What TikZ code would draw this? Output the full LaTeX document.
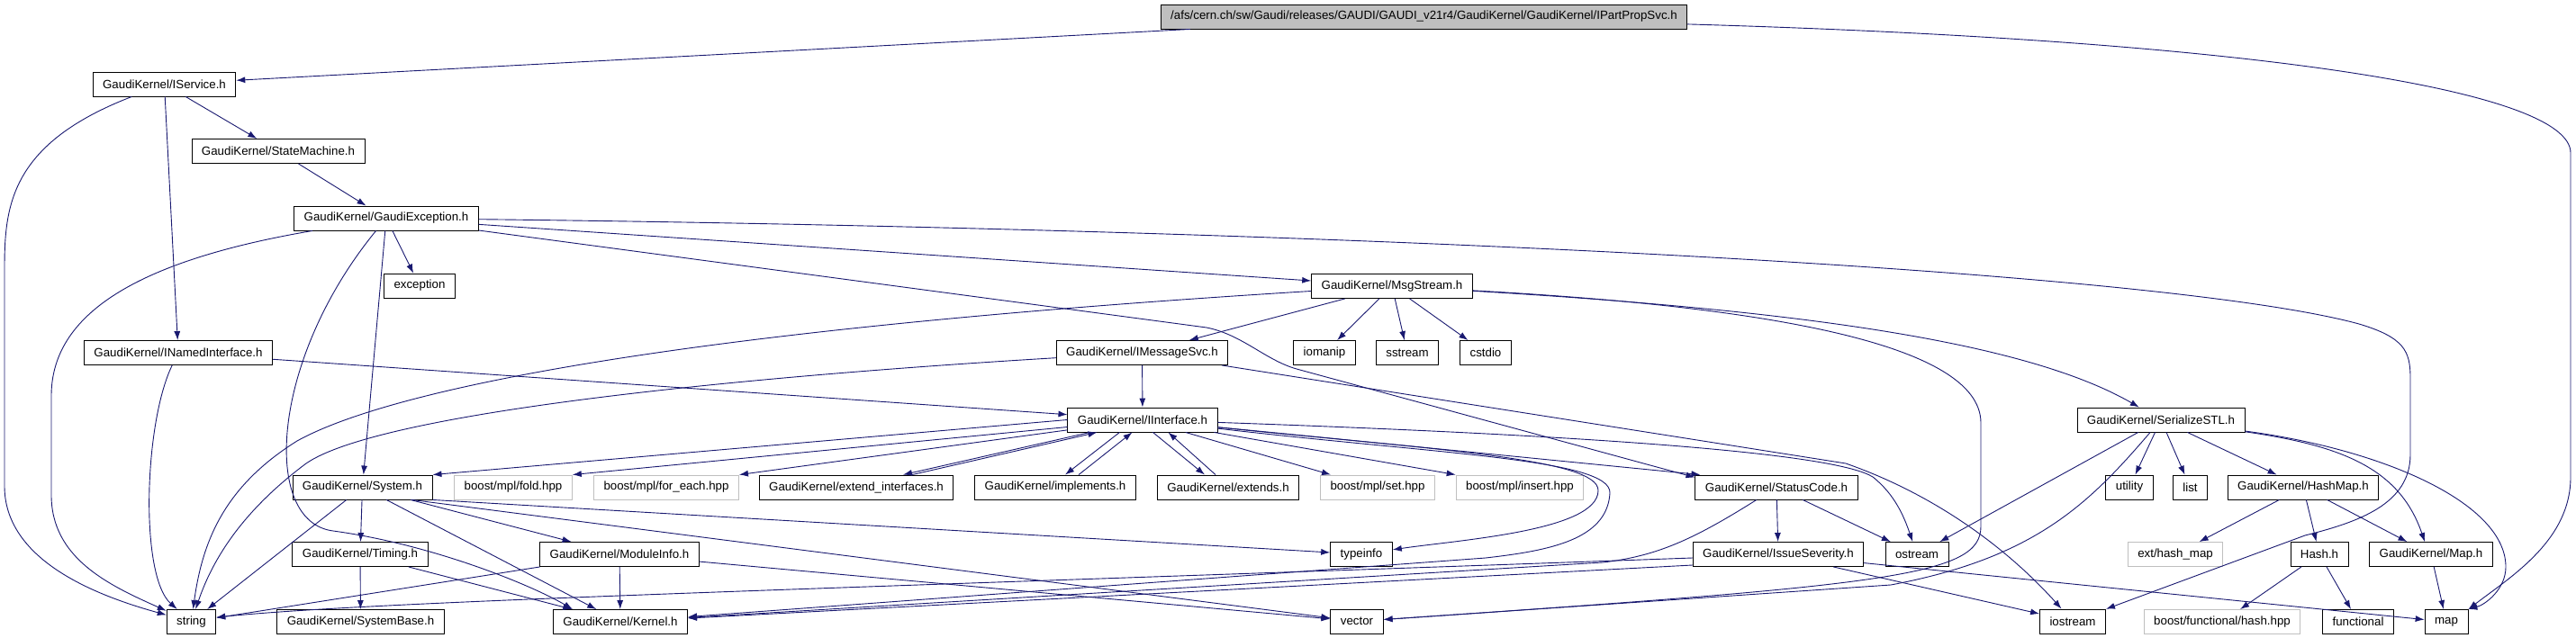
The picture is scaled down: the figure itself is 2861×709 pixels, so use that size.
\documentclass[tikz,border=0pt]{standalone}
\usepackage{fontspec}
\setmainfont{Liberation Sans}
\usetikzlibrary{arrows.meta}
\definecolor{edgeblue}{HTML}{191970}
\definecolor{sysgray}{HTML}{BFBFBF}

\begin{document}
\begin{tikzpicture}[x=1pt,y=-1pt,>={Latex[length=10pt,width=7pt]},
        font=\fontsize{13.3}{16}\selectfont,
        file/.style={draw,line width=0.9pt,fill=white,minimum height=27pt,
            inner xsep=11pt,inner ysep=0pt},
        sysfile/.style={file,draw=sysgray},
        rootfile/.style={file,fill=sysgray},
        incl/.style={->,draw=edgeblue,line width=0.9pt}]
    \useasboundingbox (0,0) rectangle (2861,709);

    % files
    \node[rootfile] (root) at (1581.5,18.5)
        {/afs/cern.ch/sw/Gaudi/releases/GAUDI/GAUDI\_v21r4/GaudiKernel/GaudiKernel/IPartPropSvc.h};
    \node[file] (iservice) at (182.5,93.5) {GaudiKernel/IService.h};
    \node[file] (statemachine) at (309,168) {GaudiKernel/StateMachine.h};
    \node[file] (gexc) at (429,242.5) {GaudiKernel/GaudiException.h};
    \node[file] (exception) at (466,317.5) {exception};
    \node[file] (msgstream) at (1546,318) {GaudiKernel/MsgStream.h};
    \node[file] (inamed) at (198,392) {GaudiKernel/INamedInterface.h};
    \node[file] (imsgsvc) at (1268.5,392) {GaudiKernel/IMessageSvc.h};
    \node[file] (iomanip) at (1471,392) {iomanip};
    \node[file] (sstream) at (1563,392) {sstream};
    \node[file] (cstdio) at (1650,392) {cstdio};
    \node[file] (iinterface) at (1269,466.5) {GaudiKernel/IInterface.h};
    \node[file] (serial) at (2400,466.5) {GaudiKernel/SerializeSTL.h};
    \node[file] (system) at (402.5,541.5) {GaudiKernel/System.h};
    \node[sysfile] (fold) at (570,541.5) {boost/mpl/fold.hpp};
    \node[sysfile] (foreach) at (740,541.5) {boost/mpl/for\_each.hpp};
    \node[file] (extifc) at (951,541.5) {GaudiKernel/extend\_interfaces.h};
    \node[file] (implements) at (1172,541.5) {GaudiKernel/implements.h};
    \node[file] (extends) at (1364,541.5) {GaudiKernel/extends.h};
    \node[sysfile] (mplset) at (1530,541.5) {boost/mpl/set.hpp};
    \node[sysfile] (mplinsert) at (1688,541.5) {boost/mpl/insert.hpp};
    \node[file] (status) at (1973,541.5) {GaudiKernel/StatusCode.h};
    \node[file] (utility) at (2365,541.5) {utility};
    \node[file] (list) at (2432.5,541.5) {list};
    \node[file] (hashmap) at (2558,541.5) {GaudiKernel/HashMap.h};
    \node[file] (timing) at (400,616) {GaudiKernel/Timing.h};
    \node[file] (modinfo) at (688,616) {GaudiKernel/ModuleInfo.h};
    \node[file] (typeinfo) at (1512,616) {typeinfo};
    \node[file] (issue) at (1975,616) {GaudiKernel/IssueSeverity.h};
    \node[file] (ostream) at (2129,616) {ostream};
    \node[sysfile] (exthash) at (2416,616) {ext/hash\_map};
    \node[file] (hashh) at (2576,616) {Hash.h};
    \node[file] (gkmap) at (2700,616) {GaudiKernel/Map.h};
    \node[file] (string) at (212.5,691) {string};
    \node[file] (sysbase) at (400.5,691) {GaudiKernel/SystemBase.h};
    \node[file] (kernel) at (689,691) {GaudiKernel/Kernel.h};
    \node[file] (vector) at (1507,690.5) {vector};
    \node[file] (iostream) at (2302,690.5) {iostream};
    \node[sysfile] (boosthash) at (2468,691) {boost/functional/hash.hpp};
    \node[file] (functional) at (2619,691) {functional};
    \node[file] (stdmap) at (2717,691) {map};

    % includes
    \draw[incl] (root) -- (iservice);
    \draw[incl] (root) .. controls (2500,45) and (2855,100) .. (2855,170)
        -- (2855,530) .. controls (2855,600) and (2790,640) .. (stdmap.north east);

    \draw[incl] (iservice) .. controls (10,160) and (5,230) .. (5,300)
        -- (5,540) .. controls (5,620) and (100,660) .. (string);
    \draw[incl] (iservice) -- (inamed);
    \draw[incl] (iservice) -- (statemachine);
    \draw[incl] (statemachine) -- (gexc);

    \draw[incl] (gexc) -- (exception);
    \draw[incl] (gexc) -- (system);
    \draw[incl] (gexc) .. controls (300,400) and (290,580) .. (370,590)
        .. controls (480,605) and (590,650) .. ([xshift=22]kernel.north west);
    \draw[incl] (gexc) .. controls (150,290) and (57,350) .. (57,440)
        -- (57,550) .. controls (57,620) and (120,650) .. (string);
    \draw[incl] (gexc) -- (msgstream);
    \draw[incl] (gexc) -- (1340,364) .. controls (1380,372) and (1405,400) .. (1440,410)
        -- ([yshift=-3]status.north west);
    \draw[incl] (gexc) .. controls (1500,255) and (2400,300) .. (2620,360)
        .. controls (2670,375) and (2677,390) .. (2677,420) -- (2677,505)
        .. controls (2677,560) and (2620,580) .. (2560,595) -- (iostream);

    \draw[incl] (inamed) .. controls (160,470) and (155,640) .. (string);
    \draw[incl] (inamed) -- (iinterface);

    \draw[incl] (msgstream) -- (imsgsvc);
    \draw[incl] (msgstream) -- (iomanip);
    \draw[incl] (msgstream) -- (sstream);
    \draw[incl] (msgstream) -- (cstdio);
    \draw[incl] (msgstream) .. controls (700,370) and (420,440) .. (330,490)
        .. controls (250,540) and (225,600) .. (string);
    \draw[incl] (msgstream) .. controls (2000,345) and (2250,380) .. (serial);
    \draw[incl] (msgstream) .. controls (1950,340) and (2200,380) .. (2200,470)
        -- (2200,585) .. controls (2200,640) and (2100,650) .. (vector);

    \draw[incl] (imsgsvc) .. controls (800,420) and (420,460) .. (340,515)
        .. controls (280,560) and (240,610) .. (string);
    \draw[incl] (imsgsvc) -- (iinterface);
    \draw[incl] (imsgsvc) -- (2050,515) .. controls (2150,550) and (2230,610) .. (iostream);

    \draw[incl] (iinterface.west) -- (system.north east);
    \draw[incl] (iinterface) -- (fold.north east);
    \draw[incl] (iinterface) -- (foreach.north east);
    \draw[incl] ([xshift=25]iinterface.south west) -- ([xshift=52]extifc.north);
    \draw[incl] ([xshift=62]extifc.north) -- ([xshift=33]iinterface.south west);
    \draw[incl] ([xshift=58]iinterface.south west) -- ([xshift=11]implements.north);
    \draw[incl] ([xshift=26]implements.north) -- ([xshift=72]iinterface.south west);
    \draw[incl] ([xshift=95]iinterface.south west) -- ([xshift=-26]extends.north);
    \draw[incl] ([xshift=-14]extends.north) -- ([xshift=112]iinterface.south west);
    \draw[incl] (iinterface) -- ([xshift=12]mplset.north west);
    \draw[incl] (iinterface) -- (mplinsert.north west);
    \draw[incl] (iinterface) -- ([xshift=6]status.north west);
    \draw[incl] (iinterface) .. controls (1800,485) and (2040,505) .. (2080,530)
        .. controls (2105,550) and (2115,575) .. (ostream);
    \draw[incl] (iinterface) .. controls (1600,500) and (1775,510) .. (1775,545)
        .. controls (1775,590) and (1620,600) .. (typeinfo);
    \draw[incl] (iinterface) .. controls (1600,505) and (1790,510) .. (1788,548)
        .. controls (1785,600) and (1720,612) .. (1650,620) -- (kernel);

    \draw[incl] (system) -- (timing);
    \draw[incl] (system) -- (modinfo);
    \draw[incl] (system) -- (kernel);
    \draw[incl] (system) -- (string);
    \draw[incl] (system.south east) -- (typeinfo);
    \draw[incl] ([xshift=-23]system.south east) -- (vector);

    \draw[incl] (timing) -- (sysbase);
    \draw[incl] (timing) -- (kernel);

    \draw[incl] (modinfo) -- (kernel);
    \draw[incl] (modinfo) -- (string);
    \draw[incl] (modinfo) -- (vector);

    \draw[incl] (status) -- (issue);
    \draw[incl] (status) -- (ostream);
    \draw[incl] (status) .. controls (1880,600) and (1840,618) .. (1780,625) -- (kernel);

    \draw[incl] ([yshift=-4]issue.west) .. controls (900,655) and (420,668)
        .. ([yshift=5]string.east);
    \draw[incl] ([yshift=-12]issue.west) -- (kernel);
    \draw[incl] (issue) -- (iostream);
    \draw[incl] (issue) -- (stdmap);

    \draw[incl] (serial) -- (ostream);
    \draw[incl] (serial) .. controls (2320,560) and (2260,620) .. (2100,650) -- (vector);
    \draw[incl] (serial) -- (utility);
    \draw[incl] (serial) -- (list);
    \draw[incl] (serial) -- (hashmap);
    \draw[incl] (serial) .. controls (2600,495) and (2665,520) .. ([xshift=-7]gkmap.north);
    \draw[incl] (serial) .. controls (2650,500) and (2783,560) .. (2783,630)
        .. controls (2783,655) and (2760,672) .. (stdmap.north east);

    \draw[incl] (hashmap) -- (exthash);
    \draw[incl] (hashmap) -- (hashh);
    \draw[incl] (hashmap) -- (gkmap);
    \draw[incl] (hashh) -- (boosthash);
    \draw[incl] (hashh) -- (functional);
    \draw[incl] (gkmap) -- (stdmap);

\end{tikzpicture}
\end{document}
